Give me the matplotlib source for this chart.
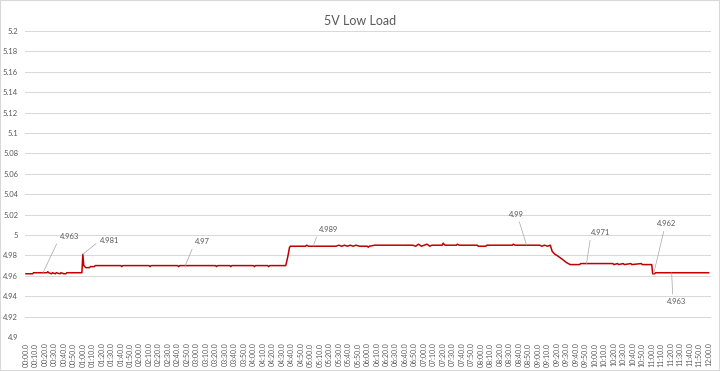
import matplotlib
matplotlib.use('Agg')
import matplotlib.pyplot as plt
from matplotlib.patches import Rectangle

plt.rcParams['font.family'] = ['Lato', 'DejaVu Sans']

# Breakpoints of the 5V rail reading (seconds, volts)
time_s = [0, 7, 8, 22, 23, 24, 27, 28, 31, 32, 36, 37, 40, 42, 43, 59, 60, 61, 63, 67, 68, 72, 73,
          100, 101, 102, 130, 131, 132, 160, 161, 162, 200, 201, 202, 215, 216, 217, 240, 241, 242,
          255, 256, 257, 274, 276, 278, 279,
          295, 296, 298, 327, 330, 333, 336, 339, 342, 345, 348, 352, 360, 361, 362, 368,
          408, 411, 414, 417, 420, 423, 426, 428, 439, 440, 442, 454, 455, 457, 476, 477, 485, 486,
          513, 514, 516, 542, 544, 547, 550, 553, 555, 558, 560, 563, 566, 570, 574, 584, 585,
          619, 620, 624, 625, 630, 631, 638, 639, 649, 650, 660, 661, 663, 664, 720]
volts = [4.962, 4.962, 4.963, 4.963, 4.964, 4.963, 4.962, 4.963, 4.962, 4.963, 4.962, 4.963, 4.962, 4.962, 4.963, 4.963, 4.981, 4.970, 4.968, 4.968, 4.969, 4.969, 4.970,
         4.970, 4.969, 4.970, 4.970, 4.969, 4.970, 4.970, 4.969, 4.970, 4.970, 4.969, 4.970, 4.970, 4.969, 4.970, 4.970, 4.969, 4.970,
         4.970, 4.969, 4.970, 4.970, 4.978, 4.988, 4.989,
         4.989, 4.990, 4.989, 4.989, 4.990, 4.989, 4.990, 4.989, 4.990, 4.989, 4.990, 4.989, 4.989, 4.988, 4.989, 4.990,
         4.990, 4.989, 4.991, 4.989, 4.990, 4.991, 4.989, 4.990, 4.990, 4.992, 4.990, 4.990, 4.991, 4.990, 4.990, 4.989, 4.989, 4.990,
         4.990, 4.991, 4.990, 4.990, 4.989, 4.990, 4.989, 4.990, 4.984, 4.981, 4.980, 4.978, 4.976, 4.973, 4.971, 4.971, 4.972,
         4.972, 4.971, 4.972, 4.971, 4.972, 4.971, 4.972, 4.971, 4.972, 4.971, 4.971, 4.962, 4.962, 4.963, 4.963]

# x axis category labels every 10 s
tick_s = list(range(0, 721, 10))
tick_labels = ['%02d:%02d.0' % (s // 60, s % 60) for s in tick_s]

# data labels
ann_labels = ['4.963', '4.981', '4.97', '4.989', '4.99', '4.971', '4.962', '4.963']
ann_times = [18, 60, 168, 303, 528, 591, 662, 681]
ann_values = [4.963, 4.981, 4.970, 4.989, 4.990, 4.971, 4.962, 4.963]

fig = plt.figure(figsize=(7.2, 3.71), dpi=100)
ax = fig.add_axes([25 / 720, 34 / 371, 686 / 720, 306 / 371])

ax.plot(time_s, volts, color='#c00000', lw=1.1)

ax.set_xlim(-1, 722.5)
ax.set_ylim(4.9, 5.2)
ax.set_yticks([4.9 + 0.02 * i for i in range(16)])
ax.set_yticklabels(['%g' % round(4.9 + 0.02 * i, 2) for i in range(16)])
ax.set_xticks(tick_s)
ax.set_xticklabels(tick_labels, rotation=90)
ax.tick_params(axis='y', length=0, pad=5, labelsize=5.5, labelcolor='#595959')
ax.tick_params(axis='x', length=0, pad=4, labelsize=5, labelcolor='#595959')
ax.grid(axis='y', color='#d9d9d9', lw=0.75)
ax.set_axisbelow(True)
for s in ax.spines.values():
    s.set_visible(False)

# label offsets in pixels, with where the leader attaches on the text
offsets = [(17, 36, 'left', (0, 0.5)), (17, 14, 'left', (0, 0.5)), (10, 24, 'left', (0, 0.5)),
           (6, 17, 'left', (0, 0.5)), (-10, 31, 'center', (0.6, 0)), (5, 32, 'left', (0, 0.5)),
           (13, 50, 'center', (0.4, 0)), (5, -29, 'center', (0.3, 1))]
for lab, t, v, (dx, dy, ha, rp) in zip(ann_labels, ann_times, ann_values, offsets):
    ax.annotate(lab, xy=(t, v), xytext=(dx, dy), textcoords='offset pixels',
                ha=ha, va='center', fontsize=5.5, color='#595959',
                arrowprops=dict(arrowstyle='-', color='#a6a6a6', lw=0.5,
                                shrinkA=1, shrinkB=0, relpos=rp))

fig.text(0.5, 1 - 21 / 371, '5V Low Load', ha='center', va='center', fontsize=9, color='#595959')
fig.patches.append(Rectangle((0, 0), 1, 1, transform=fig.transFigure, fill=False,
                             edgecolor='#d9d9d9', lw=1.5))

plt.savefig('out.png', dpi=100)
plt.close()
